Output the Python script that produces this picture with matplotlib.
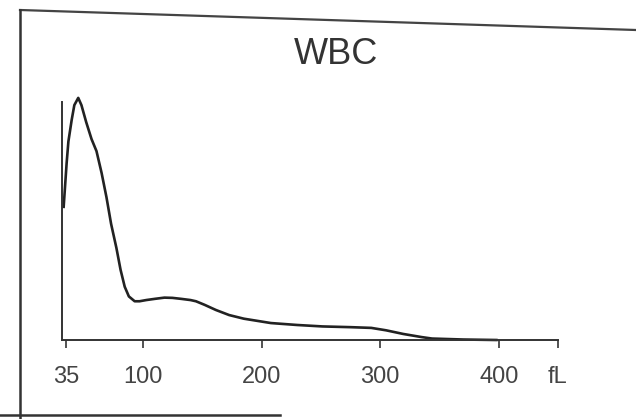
import matplotlib
matplotlib.use('Agg')
import matplotlib.pyplot as plt
from matplotlib.lines import Line2D

# WBC 直方图（扫描件）
size_fl = [33, 35.5, 37, 39.8, 42, 45.3, 48, 52, 56.5, 60.7, 65, 69.1, 73, 77.5, 81,
           84.5, 88, 92.9, 97, 102.7, 110, 118, 124.7, 132, 140, 144.6, 152, 161.4,
           172.6, 185, 207.8, 230, 251.4, 275, 292.5, 305, 319.4, 335, 343.7, 370, 398]
count = [55, 73, 82, 91, 97, 100, 97, 90, 83, 78, 69, 59, 48, 38, 29,
         22, 18, 16, 16, 16.5, 17, 17.5, 17.4, 17, 16.5, 16, 14.5, 12.4,
         10.3, 8.8, 7, 6.2, 5.6, 5.3, 5, 4, 2.5, 1.2, 0.6, 0.2, 0]
tick_pos = [35, 100, 200, 300, 400, 450]
tick_labels = ['35', '100', '200', '300', '400', 'fL']
title = 'WBC'

FONT = ['Liberation Sans Narrow', 'Liberation Sans', 'DejaVu Sans']

fig = plt.figure(figsize=(6.36, 4.19), dpi=100)
ax = fig.add_axes([62 / 636, 79 / 419, 496 / 636, 238 / 419])

ax.plot(size_fl, count, color='#222222', linewidth=1.9, clip_on=False,
        solid_joinstyle='round')

ax.set_xlim(31.6, 447.7)
ax.set_ylim(0, 98.3)
for s in ['top', 'right']:
    ax.spines[s].set_visible(False)
for s in ['left', 'bottom']:
    ax.spines[s].set_linewidth(1.4)
    ax.spines[s].set_color('#333333')

ax.set_yticks([])
ax.set_xticks(tick_pos)
ax.set_xticklabels(tick_labels, family=FONT, fontsize=17, color='#444444')
ax.tick_params(axis='x', direction='out', length=6, width=1.3,
               color='#444444', pad=13)

fig.text(336 / 636, 1 - 54 / 419, title, ha='center', va='center',
         family=FONT, fontsize=26, color='#333333')

# 扫描纸张边框
fig.add_artist(Line2D([20 / 636, 1], [1 - 10 / 419, 1 - 30 / 419],
                      color='#444444', linewidth=1.6))
fig.add_artist(Line2D([20 / 636, 20 / 636], [1 - 10 / 419, 0],
                      color='#333333', linewidth=1.8))
fig.add_artist(Line2D([0, 280 / 636], [1 - 415 / 419, 1 - 415 / 419],
                      color='#333333', linewidth=1.8))

fig.savefig('out.png', dpi=100, facecolor='white')
